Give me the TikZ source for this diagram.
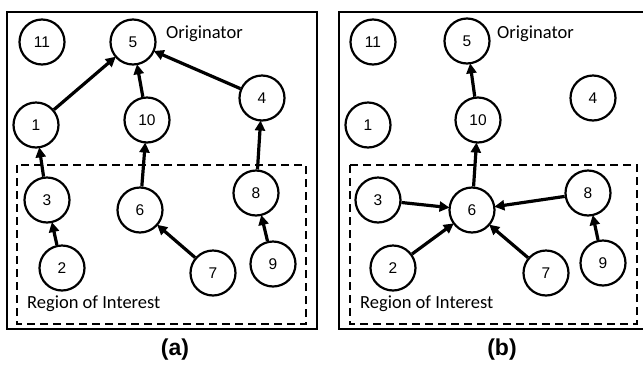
\documentclass[tikz,border=0pt]{standalone}
\usepackage{fontspec}
\setmainfont{Liberation Sans}
\newfontfamily\calib{Carlito}
\usetikzlibrary{arrows.meta}
\begin{document}
\begin{tikzpicture}[x=1pt,y=-1pt,
  nd/.style={circle,draw,line width=2.2pt,minimum size=45pt,inner sep=0pt,font=\fontsize{15.5}{15.5}\selectfont},
  arr/.style={line width=3.2pt,-{Triangle[length=10pt,width=10pt]},shorten >=-1pt},
  frame/.style={line width=2.4pt},
  roi/.style={line width=2.2pt,dash pattern=on 8pt off 5pt},
  lbl/.style={font=\calib\fontsize{18.5}{18.5}\selectfont,inner sep=0pt,anchor=west},
  captxt/.style={font=\bfseries\fontsize{23}{23}\selectfont,inner sep=0pt}]
\useasboundingbox (0,0) rectangle (643,365);
% panel (a)
\draw[frame] (7,12) rectangle (317,329);
\draw[roi] (17,165) rectangle (306,324);
\node[nd] (a11) at (42,42) {11};
\node[nd] (a5) at (133,42) {5};
\node[nd] (a1) at (36,125) {1};
\node[nd] (a10) at (147,120) {10};
\node[nd] (a4) at (262,98) {4};
\node[nd] (a3) at (47,200) {3};
\node[nd] (a6) at (140,210) {6};
\node[nd] (a8) at (256,193) {8};
\node[nd] (a2) at (62,268) {2};
\node[nd] (a7) at (213,273) {7};
\node[nd] (a9) at (273,264) {9};
\node[lbl] (aorig) at (166,34) {Originator};
\node[lbl] (aroi) at (27,304) {Region of Interest};
\node[captxt] (acap) at (175,350) {(a)};
\draw[arr] (a1) -- (a5);
\draw[arr] (a10) -- (a5);
\draw[arr] (a4) -- (a5);
\draw[arr] (a3) -- (a1);
\draw[arr] (a6) -- (a10);
\draw[arr] (a8) -- (a4);
\draw[arr] (a2) -- (a3);
\draw[arr] (a7) -- (a6);
\draw[arr] (a9) -- (a8);
% panel (b)
\draw[frame] (339,12) rectangle (646,329);
\draw[roi] (350,165) rectangle (637,324);
\node[nd] (b11) at (373,42) {11};
\node[nd] (b5) at (467,41) {5};
\node[nd] (b1) at (368,125) {1};
\node[nd] (b10) at (478,120) {10};
\node[nd] (b4) at (593,98) {4};
\node[nd] (b3) at (378,200) {3};
\node[nd] (b6) at (472,210) {6};
\node[nd] (b8) at (588,193) {8};
\node[nd] (b2) at (393,268) {2};
\node[nd] (b7) at (546,273) {7};
\node[nd] (b9) at (603,263) {9};
\node[lbl] (borig) at (497,34) {Originator};
\node[lbl] (broi) at (360,304) {Region of Interest};
\node[captxt] (bcap) at (502,350) {(b)};
\draw[arr] (b10) -- (b5);
\draw[arr] (b6) -- (b10);
\draw[arr] (b3) -- (b6);
\draw[arr] (b2) -- (b6);
\draw[arr] (b7) -- (b6);
\draw[arr] (b8) -- (b6);
\draw[arr] (b9) -- (b8);
\end{tikzpicture}
\end{document}
